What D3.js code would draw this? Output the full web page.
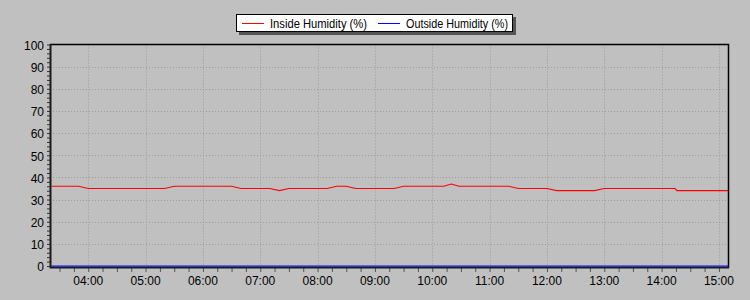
<!DOCTYPE html>
<html>
<head>
<meta charset="utf-8">
<script src="https://cdn.jsdelivr.net/npm/d3@7"></script>
<style>
  body { margin: 0; background: #c0c0c0; }
  svg { display: block; font-family: "Liberation Sans", Arial, sans-serif; font-size: 12px; }
</style>
</head>
<body>
<div id="chart"></div>
<script>
// series data (times are HH:MM on one day)
const insideTimes = ["03:20", "03:50", "04:00", "05:20", "05:30", "06:30", "06:40", "07:10", "07:20", "07:30",
    "08:10", "08:20", "08:30", "08:40", "09:20", "09:30", "10:12", "10:20", "10:28", "11:20",
    "11:30", "12:00", "12:10", "12:50", "13:00", "14:14", "14:16", "15:10"];
const insideValues = [36, 36, 35, 35, 36, 36, 35, 35, 34, 35,
    35, 36, 36, 35, 35, 36, 36, 37, 36, 36,
    35, 35, 34, 34, 35, 35, 34, 34];
const outsideTimes = ["03:20", "15:10"];
const outsideValues = [0, 0];
const seriesNames = ["Inside Humidity (%)", "Outside Humidity (%)"];
const seriesColors = ["#ff0000", "#0000ff"];
const xDomain = ["03:20", "15:10"];
const xTickLabels = ["04:00", "05:00", "06:00", "07:00", "08:00", "09:00", "10:00", "11:00", "12:00", "13:00", "14:00", "15:00"];
const yTicks = [0, 10, 20, 30, 40, 50, 60, 70, 80, 90, 100];

function main() {
    const width = 750, height = 300;
    const left = 50, right = 728.5, top = 44.5, bottom = 266;

    const parseT = s => new Date(2000, 0, 1, +s.split(":")[0], +s.split(":")[1]);

    const svg = d3.select("#chart").append("svg")
        .attr("width", width)
        .attr("height", height);

    svg.append("rect").attr("width", width).attr("height", height).attr("fill", "#c0c0c0");

    const x = d3.scaleTime().domain(xDomain.map(parseT)).range([left, right]);
    const y = d3.scaleLinear().domain([0, 100]).range([bottom, top]);

    // grid
    const grid = svg.append("g")
        .attr("stroke", "#9c9c9c")
        .attr("stroke-width", 1)
        .attr("stroke-dasharray", "1,2");
    grid.selectAll(".gx")
        .data(xTickLabels.map(parseT))
        .enter()
        .append("line")
        .attr("x1", d => Math.round(x(d)) + 0.5)
        .attr("x2", d => Math.round(x(d)) + 0.5)
        .attr("y1", top)
        .attr("y2", bottom);
    grid.selectAll(".gy")
        .data(yTicks.slice(1, -1))
        .enter()
        .append("line")
        .attr("x1", left)
        .attr("x2", right)
        .attr("y1", d => Math.round(y(d)) + 0.5)
        .attr("y2", d => Math.round(y(d)) + 0.5);

    // frame top / right
    svg.append("path")
        .attr("d", `M${left},${top}H${right}V${bottom + 2}`)
        .attr("fill", "none")
        .attr("stroke", "#000")
        .attr("stroke-width", 1.5);

    // y axis
    const yAxis = svg.append("g")
        .attr("transform", `translate(${left},0)`)
        .call(d3.axisLeft(y).tickValues(d3.range(0, 101, 2)).tickSize(3).tickFormat(""));
    yAxis.selectAll(".tick line").attr("stroke", "#333");
    yAxis.select(".domain").remove();
    svg.append("g")
        .selectAll("text")
        .data(yTicks)
        .enter()
        .append("text")
        .attr("x", 44)
        .attr("y", d => y(d) + 1)
        .attr("dy", "0.36em")
        .attr("text-anchor", "end")
        .attr("fill", "#000")
        .text(d => d);

    // x axis
    const minor = d3.timeMinute.every(15).range(x.domain()[0], x.domain()[1]);
    const xAxis = svg.append("g")
        .attr("transform", `translate(0,${bottom + 2})`)
        .call(d3.axisBottom(x).tickValues(minor).tickSize(4).tickFormat(""));
    xAxis.selectAll(".tick line").attr("stroke", "#555");
    xAxis.select(".domain").remove();
    svg.append("g")
        .selectAll("text")
        .data(xTickLabels)
        .enter()
        .append("text")
        .attr("x", d => x(parseT(d)))
        .attr("y", 285)
        .attr("text-anchor", "middle")
        .attr("fill", "#000")
        .text(d => d);

    // left and bottom axis lines (thick)
    svg.append("path")
        .attr("d", `M${left + 0.5},${top - 0.5}V${bottom + 1.5}H${right + 0.5}`)
        .attr("fill", "none")
        .attr("stroke", "#1a1a1a")
        .attr("stroke-width", 2);

    // clip
    svg.append("clipPath").attr("id", "clip")
        .append("rect")
        .attr("x", left + 1.5).attr("y", top)
        .attr("width", right - left - 2).attr("height", bottom - top + 1);

    const line = d3.line()
        .x(d => x(d[0]))
        .y(d => y(d[1]));

    const series = [
        insideTimes.map((t, i) => [parseT(t), insideValues[i]]),
        outsideTimes.map((t, i) => [parseT(t), outsideValues[i]])
    ];

    svg.append("g").attr("clip-path", "url(#clip)")
        .selectAll("path")
        .data(series)
        .enter()
        .append("path")
        .attr("d", line)
        .attr("fill", "none")
        .attr("stroke", (d, i) => seriesColors[i])
        .attr("stroke-width", 1.2);

    // legend
    const lg = svg.append("g");
    lg.append("rect")
        .attr("x", 239).attr("y", 17).attr("width", 277).attr("height", 18)
        .attr("fill", "#555");
    lg.append("rect")
        .attr("x", 236.5).attr("y", 14.5).attr("width", 276).attr("height", 17)
        .attr("fill", "#fff").attr("stroke", "#000");
    const lx = [242, 378];
    const lw = [97, 102];
    const items = lg.selectAll(".item")
        .data(seriesNames)
        .enter()
        .append("g");
    items.append("line")
        .attr("x1", (d, i) => lx[i]).attr("x2", (d, i) => lx[i] + 22)
        .attr("y1", 23.5).attr("y2", 23.5)
        .attr("stroke", (d, i) => seriesColors[i]);
    items.append("text")
        .attr("x", (d, i) => lx[i] + 28)
        .attr("y", 27.5)
        .attr("textLength", (d, i) => lw[i])
        .attr("lengthAdjust", "spacingAndGlyphs")
        .attr("fill", "#000")
        .text(d => d);
}

main();
</script>
</body>
</html>
